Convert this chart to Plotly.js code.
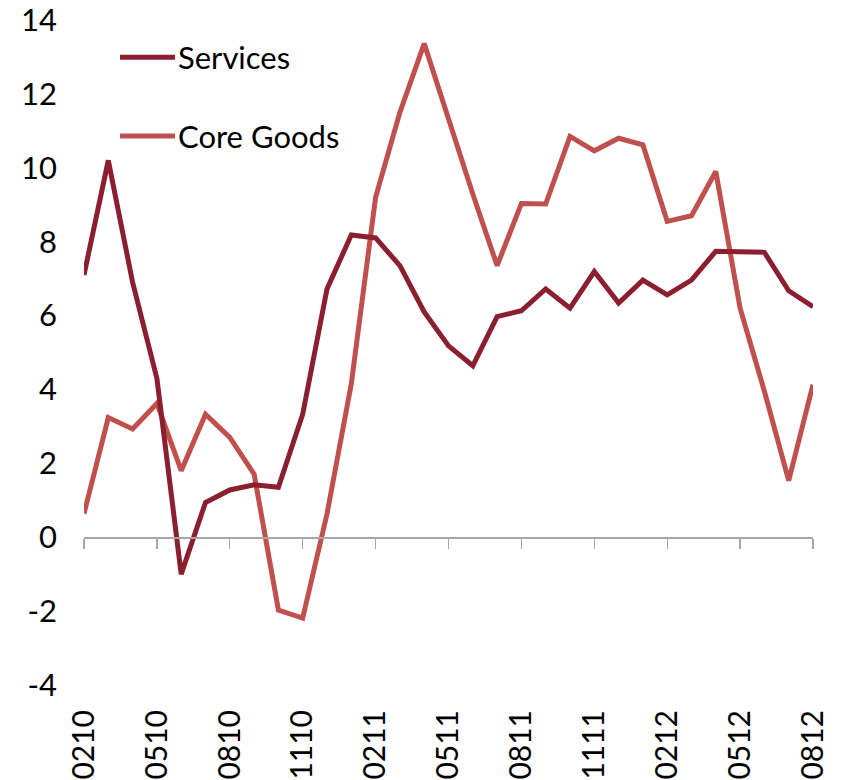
<!DOCTYPE html>
<html>
<head>
<meta charset="utf-8">
<script src="https://cdn.plot.ly/plotly-3.0.1.min.js"></script>
<style>html,body{margin:0;padding:0;background:#fff;}#chart{width:844px;height:780px;}</style>
</head>
<body>
<div id="chart"></div>
<script>
var months = ['0210','0310','0410','0510','0610','0710','0810','0910','1010','1110','1210','0111',
              '0211','0311','0411','0511','0611','0711','0811','0911','1011','1111','1211','0112',
              '0212','0312','0412','0512','0612','0712','0812'];
var tickMonths = ['0210','0510','0810','1110','0211','0511','0811','1111','0212','0512','0812'];
var services = [7.1, 10.2, 6.9, 4.3, -1.0, 0.94, 1.28, 1.42, 1.35, 3.33, 6.72, 8.18,
                8.1, 7.35, 6.1, 5.18, 4.64, 5.97, 6.13, 6.72, 6.2, 7.19, 6.34, 6.96,
                6.56, 6.96, 7.74, 7.74, 7.71, 6.67, 6.24];
var coreGoods = [0.64, 3.24, 2.93, 3.62, 1.8, 3.33, 2.7, 1.71, -1.97, -2.19, 0.63, 4.15,
                 9.2, 11.5, 13.36, 11.27, 9.29, 7.35, 9.03, 9.02, 10.85, 10.46, 10.8, 10.62,
                 8.55, 8.7, 9.9, 6.2, 3.95, 1.53, 4.13];
var yTickVals = [-4, -2, 0, 2, 4, 6, 8, 10, 12, 14];
var yTickText = ['-4', '-2', '0', '2', '4', '6', '8', '10', '12', '14'];
var seriesNames = ['Services', 'Core Goods'];

var colServices = '#8B1E2F';
var colCore = '#C0504D';
var FONT = 'Lato, "Open Sans", sans-serif';
var FS = 31;

var traces = [
  {x: months, y: services, name: seriesNames[0], type: 'scatter', mode: 'lines',
   xaxis: 'x2', yaxis: 'y', line: {color: colServices, width: 5}, showlegend: false},
  {x: months, y: coreGoods, name: seriesNames[1], type: 'scatter', mode: 'lines',
   xaxis: 'x', yaxis: 'y', line: {color: colCore, width: 5}, showlegend: false}
];

var layout = {
  width: 844, height: 780,
  margin: {l: 84, r: 31, t: 20, b: 95, pad: 0},
  paper_bgcolor: '#ffffff', plot_bgcolor: '#ffffff',
  font: {family: FONT, size: FS, color: '#000'},
  showlegend: false,
  xaxis: {
    type: 'category', categoryorder: 'array', categoryarray: months,
    range: [0, months.length - 1],
    showgrid: false, zeroline: false, showline: false, ticks: '',
    tickmode: 'array', tickvals: tickMonths, ticktext: tickMonths,
    tickangle: -90, ticklabelstandoff: 18, ticklabeloverflow: 'allow',
    tickfont: {family: FONT, size: 30, color: '#000'}
  },
  xaxis2: {
    type: 'category', categoryorder: 'array', categoryarray: months,
    range: [0, months.length - 1],
    overlaying: 'x', anchor: 'free', position: 4 / 18,
    showgrid: false, zeroline: false,
    showline: true, linecolor: '#A6A6A6', linewidth: 1.3,
    ticks: 'outside', ticklen: 10, tickwidth: 1.3, tickcolor: '#A6A6A6',
    tickmode: 'array', tickvals: tickMonths,
    showticklabels: false
  },
  yaxis: {
    range: [-4, 14], showgrid: false, zeroline: false, showline: false, ticks: '',
    tickmode: 'array', tickvals: yTickVals, ticktext: yTickText,
    ticklabelstandoff: 26, ticklabeloverflow: 'allow',
    tickfont: {family: FONT, size: FS, color: '#000'}
  },
  shapes: [
    {type: 'line', xref: 'paper', yref: 'paper', x0: 0.0494, x1: 0.1249, y0: 0.944, y1: 0.944,
     line: {color: colServices, width: 5}},
    {type: 'line', xref: 'paper', yref: 'paper', x0: 0.0494, x1: 0.1249, y0: 0.8256, y1: 0.8256,
     line: {color: colCore, width: 5}}
  ],
  annotations: [
    {xref: 'paper', yref: 'paper', x: 0.1265, y: 0.944, xanchor: 'left', yanchor: 'middle',
     text: seriesNames[0], showarrow: false, font: {family: FONT, size: FS, color: '#000'}},
    {xref: 'paper', yref: 'paper', x: 0.1265, y: 0.8256, xanchor: 'left', yanchor: 'middle',
     text: seriesNames[1], showarrow: false, font: {family: FONT, size: FS, color: '#000'}}
  ]
};

Plotly.newPlot('chart', traces, layout, {displayModeBar: false, staticPlot: true});
</script>
</body>
</html>
